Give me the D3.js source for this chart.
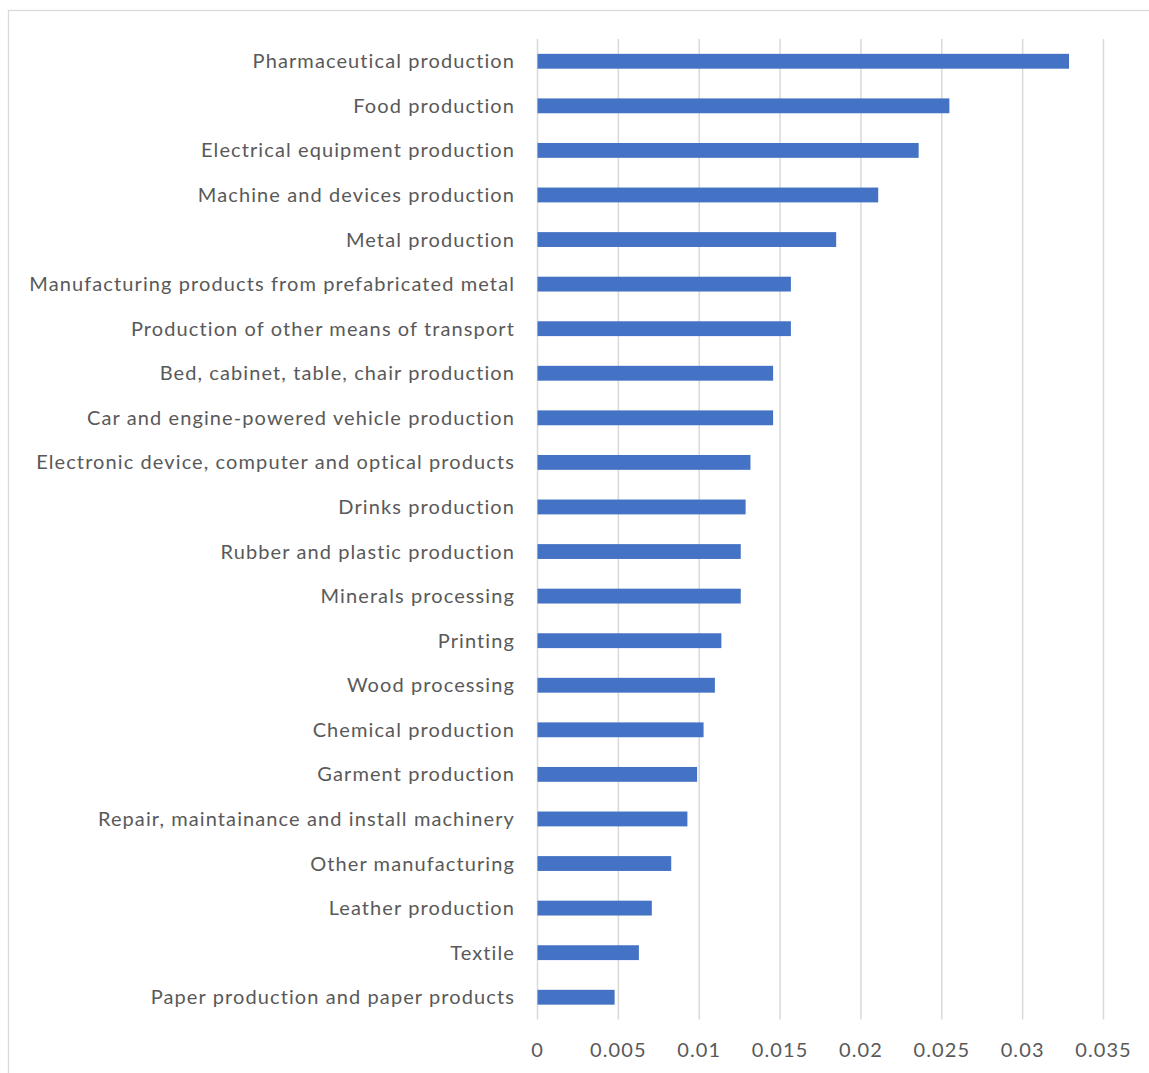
<!DOCTYPE html>
<meta charset="utf-8">
<style>
  body { margin: 0; background: #fff; }
  .bar { fill: #4472c4; }
  .grid line { stroke: #d9d9d9; stroke-width: 1.5; }
  .grid path { display: none; }
  text { font-family: Lato, "Open Sans", sans-serif; fill: #595959; font-size: 20px; letter-spacing: 1.1px; }
</style>
<body>
<script src="https://d3js.org/d3.v7.min.js"></script>
<script>

  // categories from top to bottom
  var categories = [
    "Pharmaceutical production",
    "Food production",
    "Electrical equipment production",
    "Machine and devices production",
    "Metal production",
    "Manufacturing products from prefabricated metal",
    "Production of other means of transport",
    "Bed, cabinet, table, chair production",
    "Car and engine-powered vehicle production",
    "Electronic device, computer and optical products",
    "Drinks production",
    "Rubber and plastic production",
    "Minerals processing",
    "Printing",
    "Wood processing",
    "Chemical production",
    "Garment production",
    "Repair, maintainance and install machinery",
    "Other manufacturing",
    "Leather production",
    "Textile",
    "Paper production and paper products"
  ];
  var values = [0.0329, 0.0255, 0.0236, 0.0211, 0.0185, 0.0157, 0.0157, 0.0146,
    0.0146, 0.0132, 0.0129, 0.0126, 0.0126, 0.0114, 0.011, 0.0103, 0.0099,
    0.0093, 0.0083, 0.0071, 0.0063, 0.0048];
  var tickValues = [0, 0.005, 0.01, 0.015, 0.02, 0.025, 0.03, 0.035];
  var tickLabels = ["0", "0.005", "0.01", "0.015", "0.02", "0.025", "0.03", "0.035"];

  var data = categories.map(function (c, i) { return { name: c, value: values[i] }; });

  var W = 1149, H = 1073;
  var plot = { left: 537, right: 1103, top: 39, bottom: 1019.5 };

  var svg = d3.select("body").append("svg")
    .attr("width", W)
    .attr("height", H);

  // chart border (right and bottom edges fall outside the picture)
  svg.append("rect")
    .attr("x", 8.5).attr("y", 10.5)
    .attr("width", W + 20).attr("height", H + 20)
    .attr("fill", "none")
    .attr("stroke", "#d9d9d9")
    .attr("stroke-width", 1.3);

  var x = d3.scaleLinear()
    .domain([0, 0.035])
    .range([plot.left, plot.right]);

  var y = d3.scaleBand()
    .domain(categories)
    .range([plot.top, plot.bottom])
    .paddingInner(0.667)
    .paddingOuter(0.333);

  // vertical gridlines
  svg.append("g")
    .attr("class", "grid")
    .attr("transform", "translate(0," + plot.top + ")")
    .call(d3.axisBottom(x)
      .tickValues(tickValues)
      .tickSize(plot.bottom - plot.top)
      .tickFormat(""));

  // bars
  svg.selectAll(".bar")
    .data(data)
    .enter().append("rect")
    .attr("class", "bar")
    .attr("x", x(0) + 0.5)
    .attr("y", function (d) { return y(d.name); })
    .attr("width", function (d) { return x(d.value) - x(0) - 0.5; })
    .attr("height", y.bandwidth());

  // category labels
  svg.selectAll(".cat")
    .data(data)
    .enter().append("text")
    .attr("class", "cat")
    .attr("x", 515)
    .attr("y", function (d) { return y(d.name) + y.bandwidth() / 2; })
    .attr("dy", "0.35em")
    .attr("text-anchor", "end")
    .text(function (d) { return d.name; });

  // x tick labels
  svg.selectAll(".tick-label")
    .data(tickValues)
    .enter().append("text")
    .attr("class", "tick-label")
    .attr("x", function (d) { return x(d) + 0.5; })
    .attr("y", 1050)
    .attr("dy", "0.35em")
    .attr("text-anchor", "middle")
    .text(function (d, i) { return tickLabels[i]; });

</script>
</body>
